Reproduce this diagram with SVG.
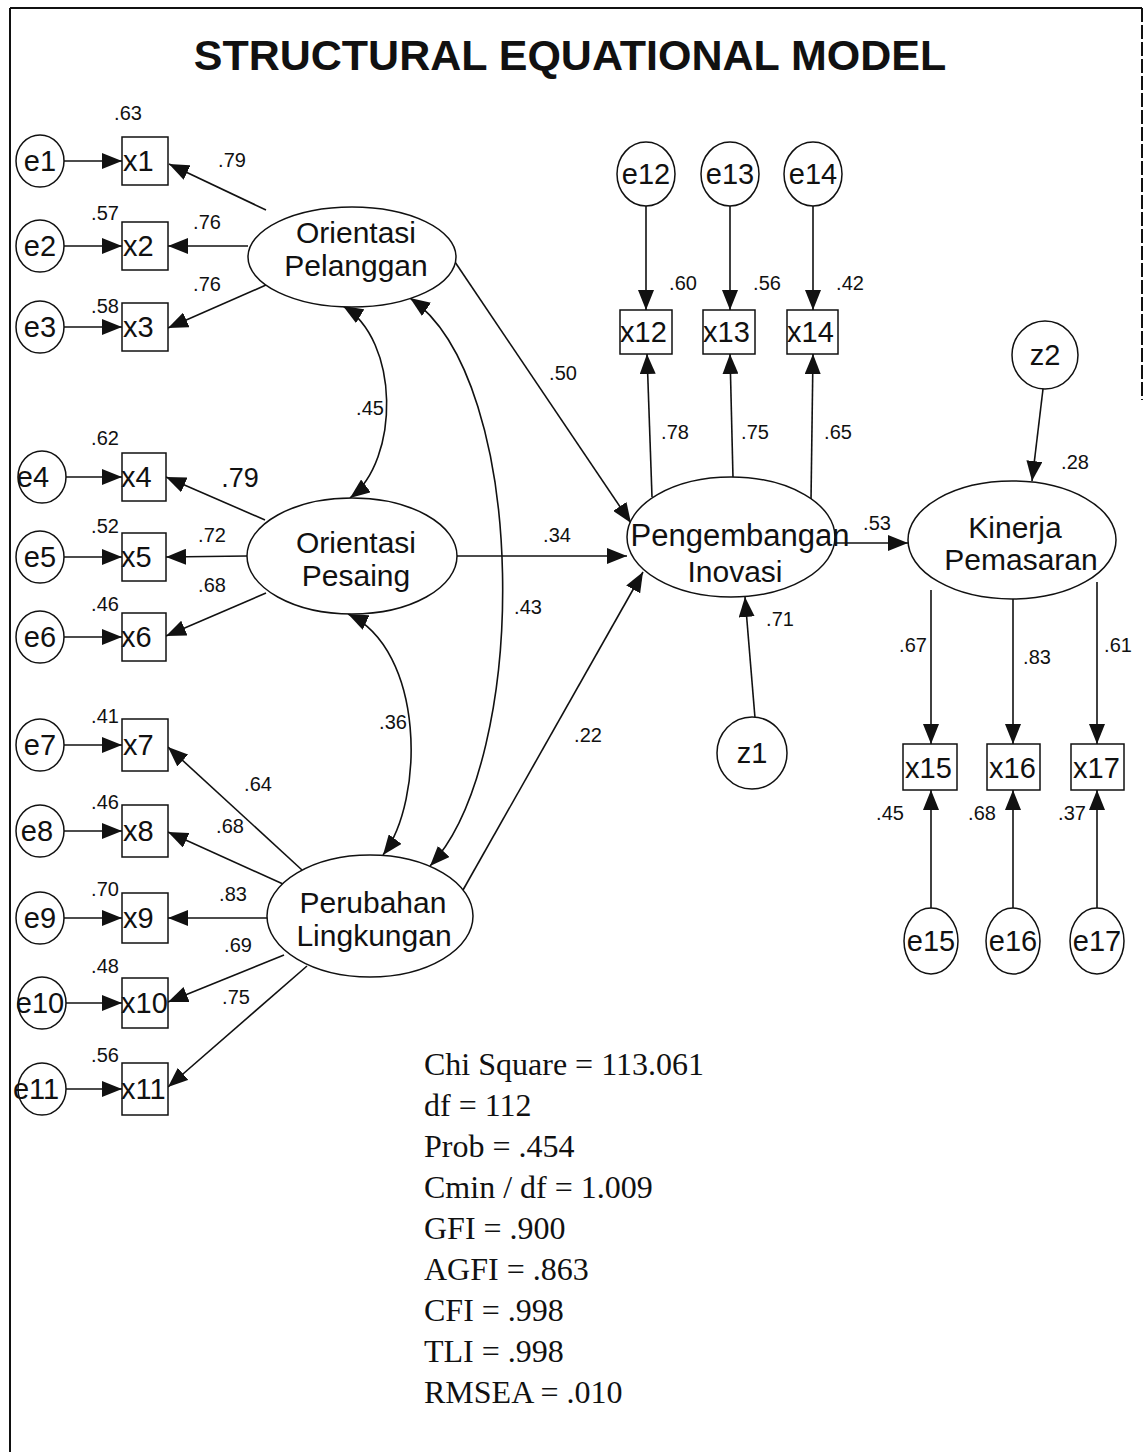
<svg xmlns="http://www.w3.org/2000/svg" width="1145" height="1452" viewBox="0 0 1145 1452">
<style>
  .frame{stroke:#111;stroke-width:2;fill:none}
  .node{fill:#fff;stroke:#111;stroke-width:1.5}
  .lbl{font-family:"Liberation Sans",Arial,sans-serif;font-size:29px;fill:#111}
  .lat{font-family:"Liberation Sans",Arial,sans-serif;font-size:30px;fill:#111;text-anchor:middle}
  .num{font-family:"Liberation Sans",Arial,sans-serif;font-size:20px;fill:#111;text-anchor:middle}
  .big{font-size:27px}
  .stat{font-family:"Liberation Serif","Times New Roman",serif;font-size:32px;fill:#111}
  .title{font-family:"Liberation Sans",Arial,sans-serif;font-size:43px;font-weight:bold;fill:#111;text-anchor:middle}
  .edge{stroke:#111;stroke-width:1.6;fill:none;marker-end:url(#ah)}
  .cov{stroke:#111;stroke-width:1.6;fill:none;marker-end:url(#ah);marker-start:url(#ahs)}
</style>
<defs>
  <marker id="ah" markerUnits="userSpaceOnUse" markerWidth="20" markerHeight="16" refX="20" refY="8" orient="auto">
    <path d="M0,0 L20,8 L0,16 z" fill="#111"/>
  </marker>
  <marker id="ahs" markerUnits="userSpaceOnUse" markerWidth="20" markerHeight="16" refX="20" refY="8" orient="auto-start-reverse">
    <path d="M0,0 L20,8 L0,16 z" fill="#111"/>
  </marker>
</defs>
<rect width="1145" height="1452" fill="#fff"/>
<g id="frame">
  <line class="frame" x1="10" y1="8" x2="10" y2="1452"/>
  <line class="frame" x1="10" y1="8" x2="1142" y2="8"/>
  <line class="frame" x1="1142" y1="8" x2="1142" y2="400" stroke-dasharray="14 3"/>
</g>
<text class="title" x="570" y="70">STRUCTURAL EQUATIONAL MODEL</text>

<g id="connectors">
  <!-- e -> x (left) -->
  <line class="edge" x1="64" y1="161" x2="122" y2="161"/>
  <line class="edge" x1="64" y1="246" x2="122" y2="246"/>
  <line class="edge" x1="64" y1="327" x2="122" y2="327"/>
  <line class="edge" x1="66" y1="477" x2="122" y2="477"/>
  <line class="edge" x1="64" y1="557" x2="122" y2="557"/>
  <line class="edge" x1="64" y1="637" x2="122" y2="637"/>
  <line class="edge" x1="64" y1="745" x2="122" y2="745"/>
  <line class="edge" x1="64" y1="831" x2="122" y2="831"/>
  <line class="edge" x1="64" y1="918" x2="122" y2="918"/>
  <line class="edge" x1="66" y1="1003" x2="122" y2="1003"/>
  <line class="edge" x1="66" y1="1089" x2="122" y2="1089"/>
  <!-- latent -> x (left) -->
  <line class="edge" x1="266" y1="210" x2="169" y2="164"/>
  <line class="edge" x1="248" y1="246" x2="168" y2="246"/>
  <line class="edge" x1="266" y1="285" x2="168" y2="328"/>
  <line class="edge" x1="265" y1="520" x2="166" y2="477"/>
  <line class="edge" x1="247" y1="556" x2="166" y2="557"/>
  <line class="edge" x1="266" y1="593" x2="166" y2="636"/>
  <line class="edge" x1="302" y1="870" x2="168" y2="747"/>
  <line class="edge" x1="283" y1="884" x2="168" y2="832"/>
  <line class="edge" x1="267" y1="918" x2="168" y2="918"/>
  <line class="edge" x1="284" y1="955" x2="168" y2="1002"/>
  <line class="edge" x1="307" y1="966" x2="168" y2="1087"/>
  <!-- covariances -->
  <path class="cov" d="M343,306 C400,340 400,460 350,498"/>
  <path class="cov" d="M348,614 C425,650 425,800 383,855"/>
  <path class="cov" d="M410,298 C530,380 530,760 430,866"/>
  <!-- structural -->
  <line class="edge" x1="455" y1="262" x2="631" y2="523"/>
  <line class="edge" x1="457" y1="556" x2="627" y2="556"/>
  <line class="edge" x1="463" y1="890" x2="643" y2="572"/>
  <line class="edge" x1="835" y1="543" x2="908" y2="543"/>
  <line class="edge" x1="755" y1="718" x2="745" y2="597"/>
  <line class="edge" x1="1043" y1="389" x2="1032" y2="481"/>
  <!-- Pengembangan indicators -->
  <line class="edge" x1="652" y1="497" x2="647" y2="354"/>
  <line class="edge" x1="733" y1="478" x2="730" y2="354"/>
  <line class="edge" x1="811" y1="500" x2="813" y2="354"/>
  <line class="edge" x1="646" y1="206" x2="646" y2="310"/>
  <line class="edge" x1="730" y1="206" x2="730" y2="310"/>
  <line class="edge" x1="813" y1="206" x2="813" y2="310"/>
  <!-- Kinerja indicators -->
  <line class="edge" x1="931" y1="590" x2="931" y2="744"/>
  <line class="edge" x1="1013" y1="599" x2="1013" y2="744"/>
  <line class="edge" x1="1097" y1="582" x2="1097" y2="744"/>
  <line class="edge" x1="931" y1="908" x2="931" y2="790"/>
  <line class="edge" x1="1013" y1="908" x2="1013" y2="790"/>
  <line class="edge" x1="1097" y1="908" x2="1097" y2="790"/>
</g>

<!-- left error terms -->
<g id="e1"><ellipse class="node" cx="40" cy="161" rx="24" ry="26"/><text class="lbl" x="40" y="171" text-anchor="middle">e1</text></g>
<g id="e2"><ellipse class="node" cx="40" cy="246" rx="24" ry="26"/><text class="lbl" x="40" y="256" text-anchor="middle">e2</text></g>
<g id="e3"><ellipse class="node" cx="40" cy="327" rx="24" ry="26"/><text class="lbl" x="40" y="337" text-anchor="middle">e3</text></g>
<g id="e4"><ellipse class="node" cx="42" cy="477" rx="24" ry="26"/><text class="lbl" x="33" y="487" text-anchor="middle">e4</text></g>
<g id="e5"><ellipse class="node" cx="40" cy="557" rx="24" ry="26"/><text class="lbl" x="40" y="567" text-anchor="middle">e5</text></g>
<g id="e6"><ellipse class="node" cx="40" cy="637" rx="24" ry="26"/><text class="lbl" x="40" y="647" text-anchor="middle">e6</text></g>
<g id="e7"><ellipse class="node" cx="40" cy="745" rx="24" ry="26"/><text class="lbl" x="40" y="755" text-anchor="middle">e7</text></g>
<g id="e8"><ellipse class="node" cx="40" cy="831" rx="24" ry="26"/><text class="lbl" x="37" y="841" text-anchor="middle">e8</text></g>
<g id="e9"><ellipse class="node" cx="40" cy="918" rx="24" ry="26"/><text class="lbl" x="40" y="928" text-anchor="middle">e9</text></g>
<g id="e10"><ellipse class="node" cx="42" cy="1003" rx="24" ry="26"/><text class="lbl" x="40" y="1013" text-anchor="middle">e10</text></g>
<g id="e11"><ellipse class="node" cx="42" cy="1089" rx="24" ry="26"/><text class="lbl" x="36" y="1099" text-anchor="middle">e11</text></g>

<!-- left observed -->
<g id="x1"><rect class="node" x="122" y="137" width="46" height="48"/><text class="lbl" x="123" y="171">x1</text></g>
<g id="x2"><rect class="node" x="122" y="222" width="46" height="48"/><text class="lbl" x="123" y="256">x2</text></g>
<g id="x3"><rect class="node" x="122" y="303" width="46" height="48"/><text class="lbl" x="123" y="337">x3</text></g>
<g id="x4"><rect class="node" x="122" y="453" width="44" height="48"/><text class="lbl" x="121" y="487">x4</text></g>
<g id="x5"><rect class="node" x="122" y="533" width="44" height="48"/><text class="lbl" x="121" y="567">x5</text></g>
<g id="x6"><rect class="node" x="122" y="613" width="44" height="48"/><text class="lbl" x="121" y="647">x6</text></g>
<g id="x7"><rect class="node" x="122" y="719" width="46" height="52"/><text class="lbl" x="123" y="755">x7</text></g>
<g id="x8"><rect class="node" x="122" y="805" width="46" height="52"/><text class="lbl" x="123" y="841">x8</text></g>
<g id="x9"><rect class="node" x="122" y="893" width="46" height="50"/><text class="lbl" x="123" y="928">x9</text></g>
<g id="x10"><rect class="node" x="122" y="978" width="46" height="50"/><text class="lbl" x="121" y="1013">x10</text></g>
<g id="x11"><rect class="node" x="122" y="1063" width="46" height="52"/><text class="lbl" x="121" y="1099">x11</text></g>

<!-- latent variables -->
<g id="orientasi-pelanggan"><ellipse class="node" cx="352" cy="257" rx="104" ry="50"/><text class="lat" x="356" y="243">Orientasi</text><text class="lat" x="356" y="276">Pelanggan</text></g>
<g id="orientasi-pesaing"><ellipse class="node" cx="352" cy="556" rx="105" ry="58"/><text class="lat" x="356" y="553">Orientasi</text><text class="lat" x="356" y="586">Pesaing</text></g>
<g id="perubahan-lingkungan"><ellipse class="node" cx="370" cy="916" rx="103" ry="61"/><text class="lat" x="373" y="913">Perubahan</text><text class="lat" x="374" y="946">Lingkungan</text></g>
<g id="pengembangan-inovasi"><ellipse class="node" cx="731" cy="537" rx="104" ry="60"/><text class="lat" x="740" y="546" style="font-size:31px">Pengembangan</text><text class="lat" x="735" y="582">Inovasi</text></g>
<g id="kinerja-pemasaran"><ellipse class="node" cx="1012" cy="540" rx="104" ry="59"/><text class="lat" x="1015" y="538">Kinerja</text><text class="lat" x="1021" y="570">Pemasaran</text></g>

<!-- Pengembangan indicators -->
<g id="e12"><ellipse class="node" cx="646" cy="174" rx="29" ry="32"/><text class="lbl" x="646" y="184" text-anchor="middle">e12</text></g>
<g id="e13"><ellipse class="node" cx="730" cy="174" rx="29" ry="32"/><text class="lbl" x="730" y="184" text-anchor="middle">e13</text></g>
<g id="e14"><ellipse class="node" cx="813" cy="174" rx="29" ry="32"/><text class="lbl" x="813" y="184" text-anchor="middle">e14</text></g>
<g id="x12"><rect class="node" x="620" y="310" width="52" height="44"/><text class="lbl" x="620" y="342">x12</text></g>
<g id="x13"><rect class="node" x="703" y="310" width="52" height="44"/><text class="lbl" x="703" y="342">x13</text></g>
<g id="x14"><rect class="node" x="787" y="310" width="51" height="44"/><text class="lbl" x="787" y="342">x14</text></g>
<g id="z1"><ellipse class="node" cx="752" cy="753" rx="35" ry="36"/><text class="lbl" x="752" y="763" text-anchor="middle">z1</text></g>
<g id="z2"><ellipse class="node" cx="1045" cy="355" rx="33" ry="34"/><text class="lbl" x="1045" y="365" text-anchor="middle">z2</text></g>

<!-- Kinerja indicators -->
<g id="x15"><rect class="node" x="903" y="744" width="54" height="46"/><text class="lbl" x="905" y="778">x15</text></g>
<g id="x16"><rect class="node" x="987" y="744" width="53" height="46"/><text class="lbl" x="989" y="778">x16</text></g>
<g id="x17"><rect class="node" x="1071" y="744" width="53" height="46"/><text class="lbl" x="1073" y="778">x17</text></g>
<g id="e15"><ellipse class="node" cx="931" cy="941" rx="27" ry="33"/><text class="lbl" x="931" y="951" text-anchor="middle">e15</text></g>
<g id="e16"><ellipse class="node" cx="1013" cy="941" rx="27" ry="33"/><text class="lbl" x="1013" y="951" text-anchor="middle">e16</text></g>
<g id="e17"><ellipse class="node" cx="1097" cy="941" rx="27" ry="33"/><text class="lbl" x="1097" y="951" text-anchor="middle">e17</text></g>

<!-- coefficient labels -->
<g id="labels">
  <text class="num" x="128" y="120">.63</text>
  <text class="num" x="105" y="220">.57</text>
  <text class="num" x="105" y="313">.58</text>
  <text class="num" x="105" y="445">.62</text>
  <text class="num" x="105" y="533">.52</text>
  <text class="num" x="105" y="611">.46</text>
  <text class="num" x="105" y="723">.41</text>
  <text class="num" x="105" y="809">.46</text>
  <text class="num" x="105" y="896">.70</text>
  <text class="num" x="105" y="973">.48</text>
  <text class="num" x="105" y="1062">.56</text>
  <text class="num" x="232" y="167">.79</text>
  <text class="num" x="207" y="229">.76</text>
  <text class="num" x="207" y="291">.76</text>
  <text class="num big" x="240" y="487">.79</text>
  <text class="num" x="212" y="542">.72</text>
  <text class="num" x="212" y="592">.68</text>
  <text class="num" x="258" y="791">.64</text>
  <text class="num" x="230" y="833">.68</text>
  <text class="num" x="233" y="901">.83</text>
  <text class="num" x="238" y="952">.69</text>
  <text class="num" x="236" y="1004">.75</text>
  <text class="num" x="563" y="380">.50</text>
  <text class="num" x="557" y="542">.34</text>
  <text class="num" x="588" y="742">.22</text>
  <text class="num" x="370" y="415">.45</text>
  <text class="num" x="528" y="614">.43</text>
  <text class="num" x="393" y="729">.36</text>
  <text class="num" x="683" y="290">.60</text>
  <text class="num" x="767" y="290">.56</text>
  <text class="num" x="850" y="290">.42</text>
  <text class="num" x="675" y="439">.78</text>
  <text class="num" x="755" y="439">.75</text>
  <text class="num" x="838" y="439">.65</text>
  <text class="num" x="780" y="626">.71</text>
  <text class="num" x="877" y="530">.53</text>
  <text class="num" x="1075" y="469">.28</text>
  <text class="num" x="913" y="652">.67</text>
  <text class="num" x="1037" y="664">.83</text>
  <text class="num" x="1118" y="652">.61</text>
  <text class="num" x="890" y="820">.45</text>
  <text class="num" x="982" y="820">.68</text>
  <text class="num" x="1072" y="820">.37</text>
</g>

<g id="fit-statistics">
  <text class="stat" x="424" y="1075">Chi Square = 113.061</text>
  <text class="stat" x="424" y="1116">df = 112</text>
  <text class="stat" x="424" y="1157">Prob = .454</text>
  <text class="stat" x="424" y="1198">Cmin / df = 1.009</text>
  <text class="stat" x="424" y="1239">GFI = .900</text>
  <text class="stat" x="424" y="1280">AGFI = .863</text>
  <text class="stat" x="424" y="1321">CFI = .998</text>
  <text class="stat" x="424" y="1362">TLI = .998</text>
  <text class="stat" x="424" y="1403">RMSEA = .010</text>
</g>
</svg>
